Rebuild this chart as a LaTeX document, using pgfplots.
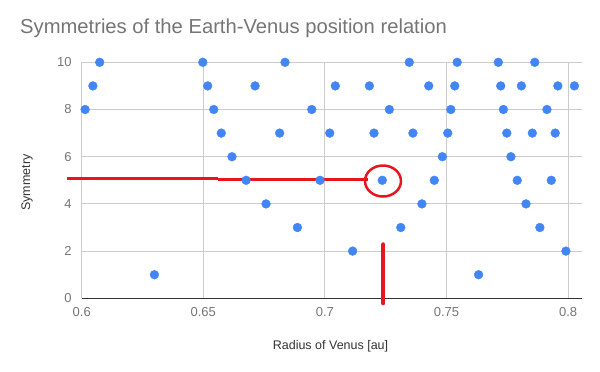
\documentclass[border=0pt]{standalone}
\usepackage{pgfplots}
\pgfplotsset{compat=1.18}
\usepackage{fontspec}
\setmainfont{Liberation Sans}
\definecolor{ptblue}{HTML}{4285F4}
\definecolor{gridc}{HTML}{CCCCCC}
\definecolor{tickc}{HTML}{757575}
\definecolor{labc}{HTML}{333333}
\definecolor{annred}{HTML}{E8141E}
\begin{document}
\begin{tikzpicture}
\begin{axis}[
  scale only axis, width=500pt, height=236pt,
  xmin=0.6, xmax=0.8056, ymin=0, ymax=10,
  xtick={0.6,0.65,0.7,0.75,0.8},
  xticklabels={0.6,0.65,0.7,0.75,0.8},
  ytick={0,2,4,6,8,10},
  yticklabels={0,2,4,6,8,10},
  grid=major, grid style={draw=gridc, line width=1pt},
  axis x line=bottom, axis y line=left,
  axis line style={-},
  x axis line style={draw=labc, line width=1.3pt},
  y axis line style={draw=gridc, line width=1pt},
  major tick length=0pt,
  tick label style={font=\fontsize{13}{15}\selectfont, text=tickc, inner sep=0pt},
  xticklabel style={anchor=north, yshift=-9pt},
  yticklabel style={anchor=east, xshift=-10pt},
  xlabel={Radius of Venus [au]},
  ylabel={Symmetry},
  label style={font=\fontsize{12.5}{15}\selectfont, text=labc, inner sep=0pt},
  xlabel style={at={(axis description cs:0.4976,0)}, anchor=base, yshift=-50.7pt},
  ylabel style={at={(axis description cs:-0.1094,0.4907)}, anchor=center},
  title={Symmetries of the Earth-Venus position relation},
  title style={font=\fontsize{20.2}{23}\selectfont, text=tickc, inner sep=0pt,
    at={(axis description cs:0,1)}, anchor=base west, xshift=-61.7pt, yshift=22.8pt},
  clip=false,
]
\addplot[only marks, mark=*, mark size=4.4pt, mark options={fill=ptblue, draw=ptblue}] table {
x y
0.6074 10
0.6498 10
0.6836 10
0.7347 10
0.7544 10
0.7713 10
0.7863 10
0.6046 9
0.6518 9
0.6713 9
0.7043 9
0.7183 9
0.7427 9
0.7534 9
0.7723 9
0.7808 9
0.7958 9
0.8026 9
0.6014 8
0.6543 8
0.6946 8
0.7265 8
0.7518 8
0.7734 8
0.7913 8
0.6574 7
0.6814 7
0.7020 7
0.7202 7
0.7362 7
0.7505 7
0.7748 7
0.7853 7
0.7947 7
0.6618 6
0.7483 6
0.7765 6
0.6676 5
0.6980 5
0.7236 5
0.7450 5
0.7791 5
0.7931 5
0.6758 4
0.7399 4
0.7827 4
0.6887 3
0.7312 3
0.7884 3
0.7114 2
0.7991 2
0.6299 1
0.7632 1
};
\draw[annred, line width=3pt] (axis cs:0.59383,5.085) -- (axis cs:0.65617,5.085);
\draw[annred, line width=3pt] (axis cs:0.6560,5.042) -- (axis cs:0.71772,5.042);
\draw[annred, line width=2.5pt] (axis cs:0.72389,4.97) ellipse [x radius=18pt, y radius=15.5pt];
\draw[annred, line width=4pt, line cap=round] (axis cs:0.72401,2.288) -- (axis cs:0.72401,-0.212);
\path (axis description cs:-0.1634,-0.3081) rectangle (axis description cs:1.0366,1.2640);
\end{axis}
\end{tikzpicture}
\end{document}
